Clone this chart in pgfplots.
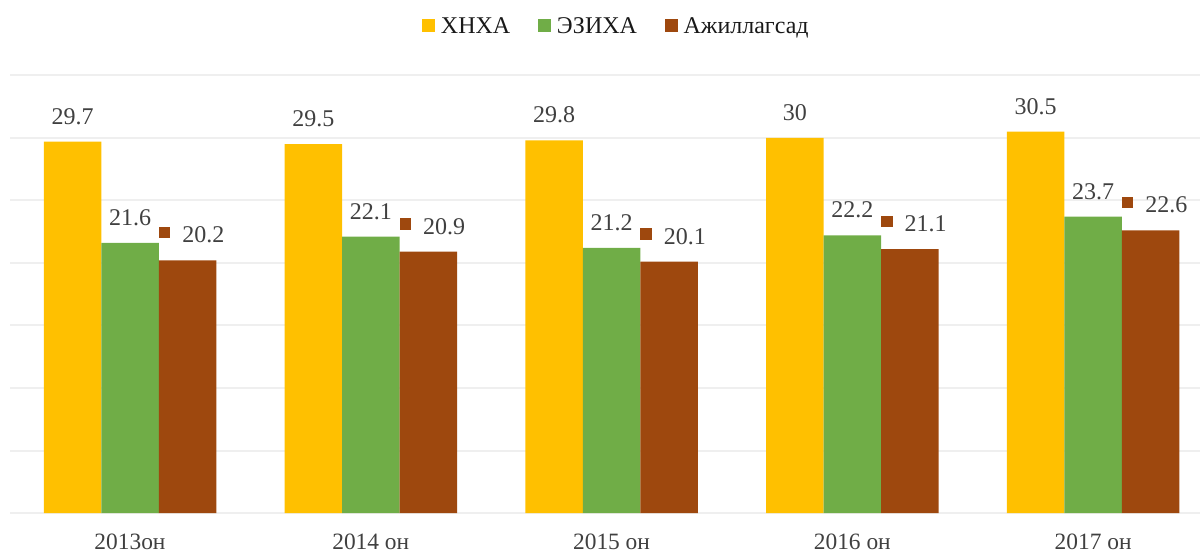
\documentclass[border=0pt]{standalone}
\usepackage{pgfplots}
\pgfplotsset{compat=1.18}
\usepackage{fontspec}
\setmainfont{Liberation Serif}
\definecolor{cY}{HTML}{FFC000}
\definecolor{cG}{HTML}{70AD47}
\definecolor{cB}{HTML}{9E480E}
\definecolor{lbl}{HTML}{404040}
\definecolor{gridc}{HTML}{EFEFEF}
\begin{document}
\begin{tikzpicture}
\begin{axis}[
  scale only axis,
  width=595pt, height=218.75pt,
  xmin=-0.4984, xmax=4.444,
  ymin=0, ymax=35,
  enlargelimits=false,
  clip=false,
  ybar=0pt, bar width=28.75pt,
  axis line style={draw=none},
  tick style={draw=none},
  ytick={0,5,...,35},
  yticklabels={},
  ymajorgrids,
  grid style={gridc, line width=1pt},
  xtick={0,1,2,3,4},
  xticklabels={2013он, 2014 он, 2015 он, 2016 он, 2017 он},
  xticklabel style={anchor=north, inner sep=0pt, yshift=-6pt, text=lbl, font=\fontsize{11.7}{14}\selectfont},
  point meta=explicit symbolic,
  every node near coord/.append style={anchor=south, inner sep=0pt, yshift=8.5pt, text=lbl, font=\fontsize{12}{14}\selectfont},
  legend columns=3,
  legend style={at={(0.5088,1.1109)}, anchor=center, draw=none, fill=none,
    inner sep=0pt, outer sep=0pt,
    nodes={inner sep=0pt, font=\fontsize{12}{14}\selectfont, text=black!90},
    /tikz/every odd column/.append style={column sep=2.8pt},
    /tikz/every even column/.append style={column sep=14pt}},
  legend image code/.code={\fill[#1] (0pt,-2.6pt) rectangle (6.5pt,3.9pt);},
]
\addplot[fill=cY, draw=none, nodes near coords] coordinates {(0,29.7) [29.7] (1,29.5) [29.5] (2,29.8) [29.8] (3,30) [30] (4,30.5) [30.5]};
\addlegendentry{ХНХА}
\addplot[fill=cG, draw=none, nodes near coords] coordinates {(0,21.6) [21.6] (1,22.1) [22.1] (2,21.2) [21.2] (3,22.2) [22.2] (4,23.7) [23.7]};
\addlegendentry{ЭЗИХА}
\addplot[fill=cB, draw=none, nodes near coords={\raisebox{2.15pt}{\textcolor{cB}{\rule{5.75pt}{5.75pt}}}\hspace{6pt}\pgfplotspointmeta},
  every node near coord/.append style={xshift=2pt}] coordinates {(0,20.2) [20.2] (1,20.9) [20.9] (2,20.1) [20.1] (3,21.1) [21.1] (4,22.6) [22.6]};
\addlegendentry{Ажиллагсад}
\end{axis}
\pgfresetboundingbox
\useasboundingbox (-5pt,-19.5pt) rectangle (595pt,256.5pt);
\end{tikzpicture}
\end{document}
